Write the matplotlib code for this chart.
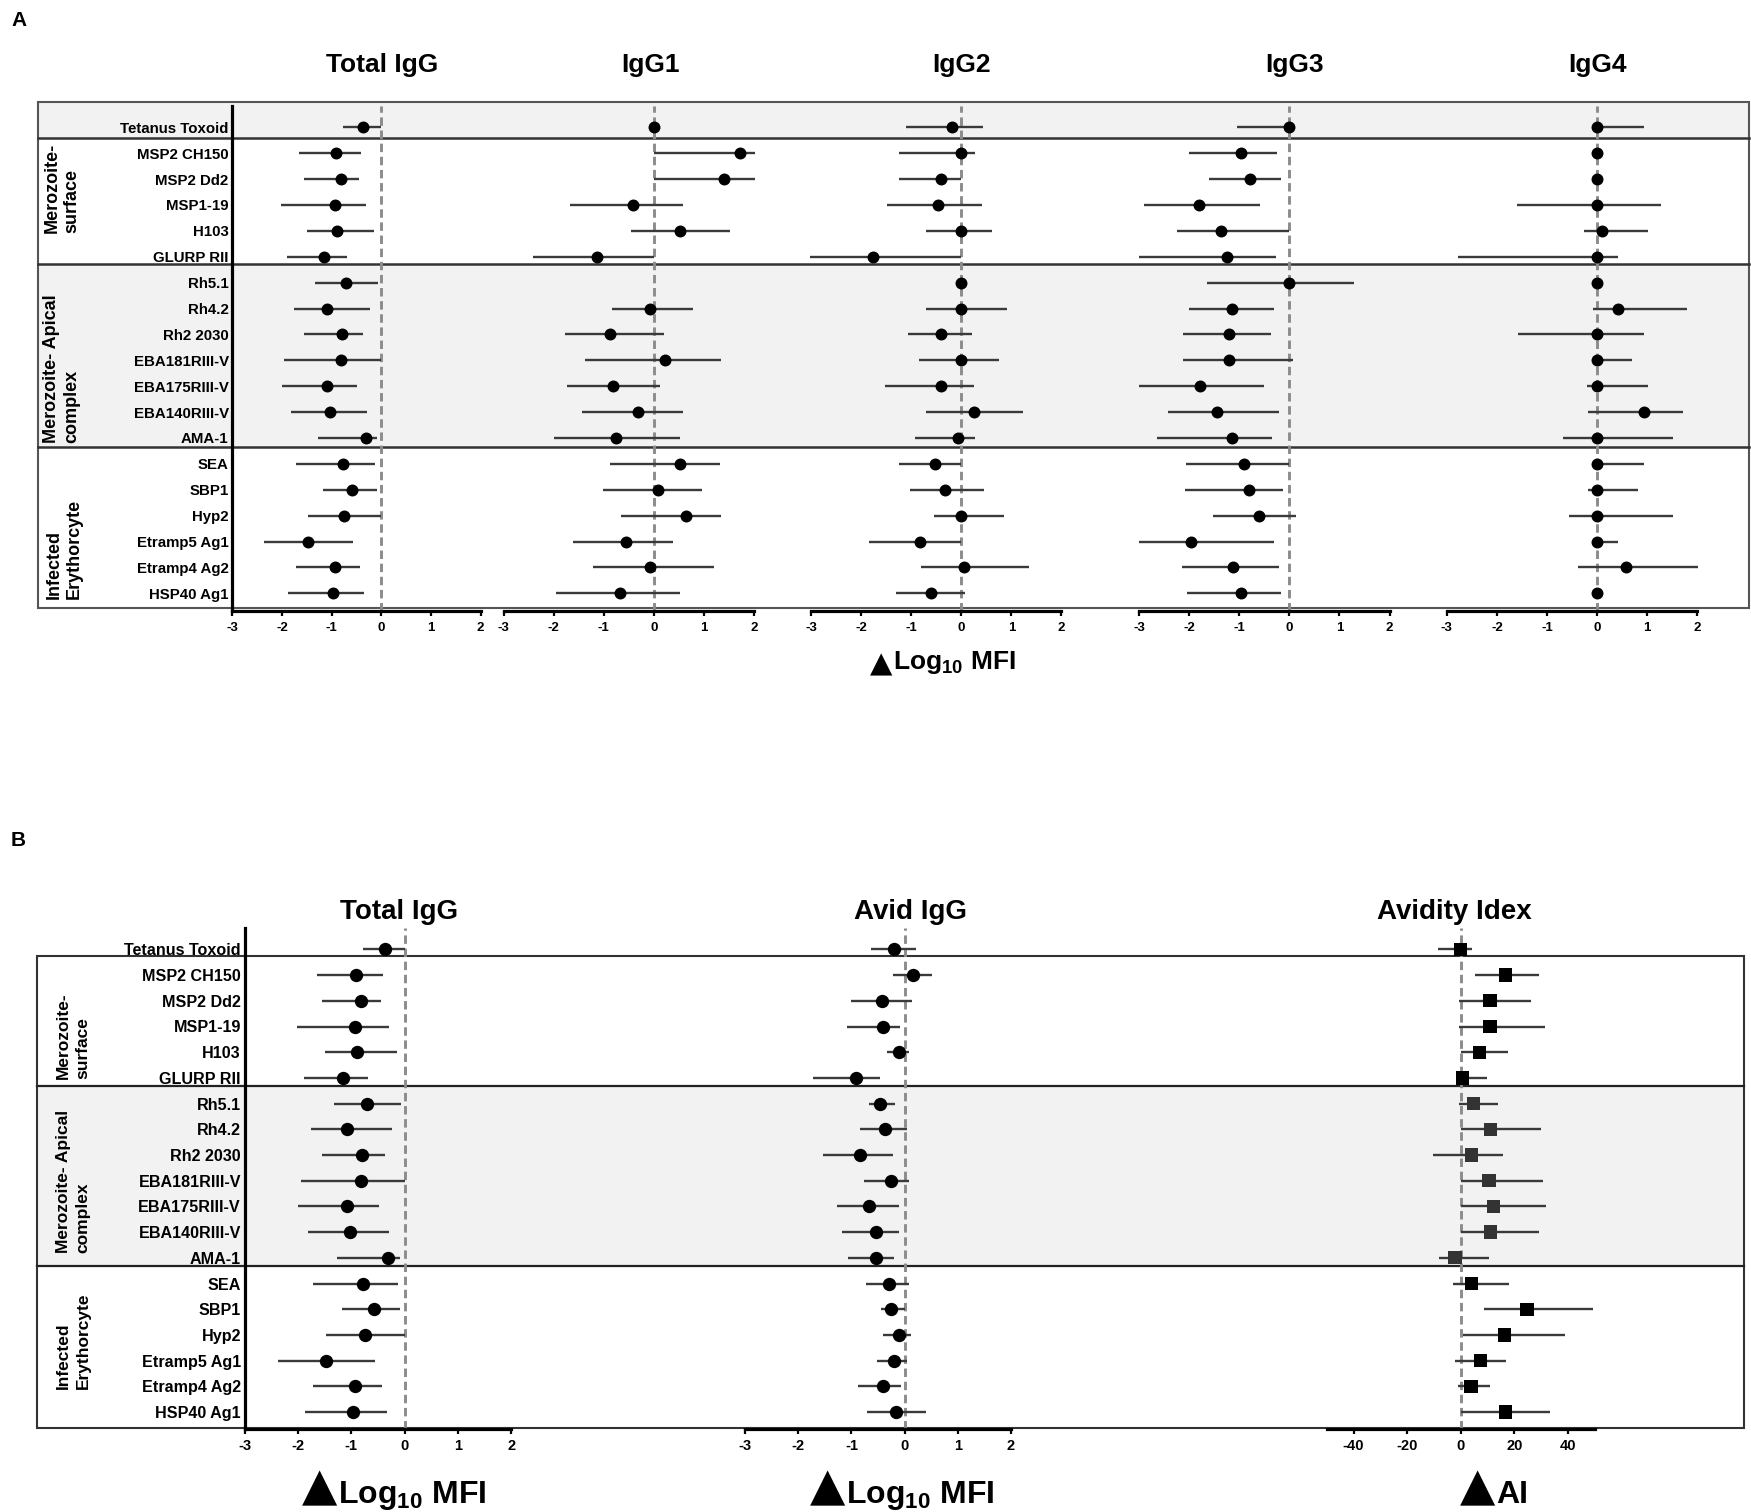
import numpy as np
import matplotlib.pyplot as plt
from matplotlib.patches import Rectangle

nan = np.nan
W, H = 1751, 1512

antigens = ["Tetanus Toxoid", "MSP2 CH150", "MSP2 Dd2", "MSP1-19", "H103", "GLURP RII",
            "Rh5.1", "Rh4.2", "Rh2 2030", "EBA181RIII-V", "EBA175RIII-V", "EBA140RIII-V", "AMA-1",
            "SEA", "SBP1", "Hyp2", "Etramp5 Ag1", "Etramp4 Ag2", "HSP40 Ag1"]
groups = ["Merozoite-\nsurface", "Merozoite- Apical\ncomplex", "Infected\nErythorcyte"]
titles_a = ["Total IgG", "IgG1", "IgG2", "IgG3", "IgG4"]
titles_b = ["Total IgG", "Avid IgG", "Avidity Idex"]

# point estimate, lower and upper limit (delta log10 MFI)
tot_mid = [-0.37, -0.91, -0.82, -0.93, -0.89, -1.16, -0.70, -1.09, -0.80, -0.81, -1.09, -1.03, -0.31,
           -0.78, -0.58, -0.74, -1.48, -0.94, -0.97]
tot_lo = [-0.78, -1.65, -1.55, -2.01, -1.50, -1.89, -1.33, -1.75, -1.55, -1.95, -1.99, -1.81, -1.27,
          -1.72, -1.17, -1.48, -2.37, -1.71, -1.87]
tot_hi = [0, -0.40, -0.44, -0.30, -0.14, -0.69, -0.07, -0.23, -0.37, 0, -0.49, -0.29, -0.08,
          -0.12, -0.09, 0, -0.56, -0.42, -0.34]

g1_mid = [0, 1.72, 1.40, -0.42, 0.52, -1.13, nan, -0.08, -0.88, 0.22, -0.82, -0.32, -0.76,
          0.52, 0.08, 0.65, -0.56, -0.08, -0.68]
g1_lo = [0, 0, 0, -1.67, -0.46, -2.41, nan, -0.84, -1.77, -1.37, -1.73, -1.44, -2.00,
         -0.88, -1.02, -0.65, -1.61, -1.21, -1.95]
g1_hi = [0, 2.02, 2.02, 0.58, 1.52, 0, nan, 0.79, 0.21, 1.35, 0.13, 0.58, 0.52,
         1.32, 0.96, 1.35, 0.39, 1.20, 0.52]

g2_mid = [-0.18, 0, -0.41, -0.47, 0, -1.77, 0, 0, -0.41, 0, -0.41, 0.26, -0.06,
          -0.53, -0.32, 0, -0.83, 0.05, -0.60]
g2_lo = [-1.11, -1.25, -1.25, -1.49, -0.70, -3.02, 0, -0.70, -1.06, -0.85, -1.52, -0.70, -0.92,
         -1.25, -1.03, -0.55, -1.85, -0.81, -1.31]
g2_hi = [0.44, 0.28, 0, 0.42, 0.61, 0, 0, 0.92, 0.22, 0.75, 0.25, 1.24, 0.28,
         0, 0.46, 0.86, 0, 1.35, 0.08]

g3_mid = [0, -0.97, -0.78, -1.81, -1.37, -1.25, 0, -1.14, -1.21, -1.20, -1.78, -1.45, -1.15,
          -0.90, -0.81, -0.61, -1.96, -1.12, -0.97]
g3_lo = [-1.04, -2.00, -1.60, -2.91, -2.25, -3.00, -1.65, -2.00, -2.13, -2.13, -3.00, -2.43, -2.64,
         -2.06, -2.09, -1.53, -3.00, -2.15, -2.04]
g3_hi = [0, -0.24, -0.16, -0.59, 0, -0.26, 1.30, -0.30, -0.37, 0.07, -0.50, -0.21, -0.34,
         0, -0.12, 0.13, -0.31, -0.21, -0.16]

g4_mid = [0, 0, 0, 0, 0.10, 0, 0, 0.42, 0, 0, 0, 0.93, 0,
          0, 0, 0, 0, 0.57, 0]
g4_lo = [0, 0, 0, -1.59, -0.26, -2.78, 0, -0.09, -1.57, 0, -0.20, -0.18, -0.68,
         0, -0.18, -0.57, 0, -0.38, 0]
g4_hi = [0.93, 0, 0, 1.27, 1.01, 0.41, 0, 1.80, 0.93, 0.70, 1.01, 1.72, 1.52,
         0.93, 0.82, 1.52, 0.41, 2.02, 0]

av_mid = [-0.19, 0.16, -0.43, -0.40, -0.11, -0.91, -0.46, -0.36, -0.83, -0.26, -0.66, -0.53, -0.54,
          -0.30, -0.25, -0.11, -0.19, -0.41, -0.17]
av_lo = [-0.64, -0.22, -1.00, -1.09, -0.33, -1.73, -0.66, -0.83, -1.53, -0.76, -1.27, -1.18, -1.06,
         -0.73, -0.44, -0.40, -0.51, -0.88, -0.70]
av_hi = [0.22, 0.51, 0.13, -0.09, 0.09, -0.46, -0.18, 0.04, -0.21, 0.09, -0.10, -0.10, -0.19,
         0.09, 0, 0.12, 0.04, -0.06, 0.41]

# delta avidity index
ai_mid = [0, 16.6, 10.9, 10.9, 6.9, 0.6, 4.75, 11.1, 4.1, 10.6, 12.25, 11.1, -2.1,
          4.0, 24.75, 16.4, 7.5, 3.9, 16.6]
ai_lo = [-8.4, 5.4, -0.5, -0.5, 0.25, -1.75, -0.5, 0, -10.4, 0, 0, 0.25, -8.0,
         -3.0, 8.6, 1.0, -2.0, -1.1, 0]
ai_hi = [4.4, 29.1, 26.3, 31.3, 17.5, 9.9, 14.1, 29.8, 15.75, 30.6, 32.0, 29.1, 10.6,
         18.0, 49.25, 38.75, 17.0, 11.0, 33.4]

plt.rcParams["font.family"] = ["Liberation Sans", "DejaVu Sans"]
plt.rcParams["font.weight"] = "bold"
plt.rcParams["axes.unicode_minus"] = False
plt.rcParams["mathtext.fontset"] = "custom"
plt.rcParams["mathtext.rm"] = "Liberation Sans:bold"
plt.rcParams["mathtext.it"] = "Liberation Sans:bold"
plt.rcParams["mathtext.bf"] = "Liberation Sans:bold"

fig = plt.figure(figsize=(W / 100, H / 100), dpi=100)
bg = fig.add_axes([0, 0, 1, 1])
bg.set_xlim(0, W)
bg.set_ylim(H, 0)
bg.axis("off")


def make_panel(x0, x1, y0, y1, row0, sp, xlim, fs, pad):
    ax = fig.add_axes([x0 / W, 1 - y1 / H, (x1 - x0) / W, (y1 - y0) / H])
    ax.set_facecolor("none")
    ax.set_xlim(xlim)
    ax.set_ylim((y1 - row0) / sp, (y0 - row0) / sp)
    for s in ["top", "right", "left"]:
        ax.spines[s].set_visible(False)
    ax.spines["bottom"].set_linewidth(2.3)
    ax.set_yticks([])
    ax.tick_params(axis="x", direction="out", length=3.5, width=1.6, pad=pad, labelsize=fs)
    return ax


def draw(ax, mid, lo, hi, marker="o", ms=7.5, mcol="k"):
    mid, lo, hi = np.array(mid), np.array(lo), np.array(hi)
    y = np.arange(len(mid))
    ax.axvline(0, color="#8c8c8c", lw=2.1, ls=(0, (2.9, 1.6)), zorder=1)
    ax.hlines(y, lo, hi, color="#3a3a3a", lw=1.7, zorder=2, clip_on=False)
    ax.scatter(mid, y, marker=marker, s=ms ** 2, c=mcol, zorder=3, clip_on=False, linewidths=0)


def add_rows(ax, fs, pad):
    ax.spines["left"].set_visible(True)
    ax.spines["left"].set_linewidth(2.3)
    ax.set_yticks(np.arange(len(antigens)))
    ax.set_yticklabels(antigens, fontsize=fs, fontweight="bold")
    ax.tick_params(axis="y", length=0, pad=pad)


# ---------------- panel A ----------------
bg.text(11, 20, "A", fontsize=15, ha="left", va="center")
a_row0, a_sp = 127.3, 25.89
bg.add_patch(Rectangle((38, 102.3), 1711, 35.4, facecolor="#f2f2f2", edgecolor="none"))
bg.add_patch(Rectangle((38, 264), 1711, 182.7, facecolor="#f2f2f2", edgecolor="none"))
bg.add_patch(Rectangle((38, 102.3), 1711, 506, facecolor="none", edgecolor="#555555", lw=1.5))
for yy in [137.7, 264, 446.7]:
    bg.plot([38, 1749], [yy, yy], color="#333333", lw=1.8)
for txt, (gx, gy) in zip(groups, [(62, 188), (62, 369), (64, 549)]):
    bg.text(gx, gy, txt, rotation=90, ha="center", va="center", multialignment="left",
            fontsize=13, linespacing=1.25)

a_x = [(232.3, 480.5), (503.7, 754), (811.4, 1061.3), (1139.3, 1389.5), (1446.8, 1697.4)]
a_title_x = [382, 650, 961.5, 1295, 1597]
a_data = [(tot_mid, tot_lo, tot_hi), (g1_mid, g1_lo, g1_hi), (g2_mid, g2_lo, g2_hi),
          (g3_mid, g3_lo, g3_hi), (g4_mid, g4_lo, g4_hi)]
for k, ((x0, x1), (m, l, h)) in enumerate(zip(a_x, a_data)):
    ax = make_panel(x0, x1, 106, 610.5, a_row0, a_sp, (-3, 2), 9.5, 4.5)
    ax.set_xticks([-3, -2, -1, 0, 1, 2])
    draw(ax, m, l, h, ms=8.6)
    bg.text(a_title_x[k], 65, titles_a[k], ha="center", va="center", fontsize=19)
    if k == 0:
        add_rows(ax, 10.8, 2.6)

bg.text(892, 672, "\u25B2", fontsize=21, ha="right", va="baseline", family=["DejaVu Sans"])
bg.text(893, 669, "Log$_{10}$ MFI", fontsize=19, ha="left", va="baseline")

# ---------------- panel B ----------------
bg.text(11, 840, "B", fontsize=15, ha="left", va="center")
b_row0, b_sp = 949.4, 25.7
bg.add_patch(Rectangle((37, 1085.6), 1707, 180.3, facecolor="#f2f2f2", edgecolor="none"))
bg.add_patch(Rectangle((37, 955.8), 1707, 472.2, facecolor="none", edgecolor="#333333", lw=1.5))
for yy in [1085.6, 1265.9]:
    bg.plot([37, 1744], [yy, yy], color="#222222", lw=1.6)
for txt, gy in zip(groups, [1036, 1181.5, 1341]):
    bg.text(73, gy, txt, rotation=90, ha="center", va="center", multialignment="left",
            fontsize=12.5, linespacing=1.4)

b_x = [(244.6, 511.4), (745, 1011), (1326.7, 1594.7)]
b_title_x = [399, 910, 1454]
b_lims = [(-3, 2), (-3, 2), (-50, 50)]
b_ticks = [[-3, -2, -1, 0, 1, 2], [-3, -2, -1, 0, 1, 2], [-40, -20, 0, 20, 40]]
b_data = [(tot_mid, tot_lo, tot_hi), (av_mid, av_lo, av_hi), (ai_mid, ai_lo, ai_hi)]
ai_cols = ["#000000"] * 6 + ["#333333"] * 7 + ["#000000"] * 6
for k, ((x0, x1), (m, l, h)) in enumerate(zip(b_x, b_data)):
    ax = make_panel(x0, x1, 928, 1429, b_row0, b_sp, b_lims[k], 10.5, 3.5)
    ax.set_xticks(b_ticks[k])
    if k == 2:
        draw(ax, m, l, h, marker="s", ms=9.6, mcol=ai_cols)
    else:
        draw(ax, m, l, h, ms=9.6)
    bg.text(b_title_x[k], 912, titles_b[k], ha="center", va="center", fontsize=20)
    if k == 0:
        add_rows(ax, 11.6, 2.6)

for xs, txt in [(338, "Log$_{10}$ MFI"), (846, "Log$_{10}$ MFI"), (1496, "AI")]:
    bg.text(xs - 1, 1500, "\u25B2", fontsize=33, ha="right", va="baseline", family=["DejaVu Sans"])
    bg.text(xs, 1503, txt, fontsize=23, ha="left", va="baseline")

fig.savefig("out.png", dpi=100)
